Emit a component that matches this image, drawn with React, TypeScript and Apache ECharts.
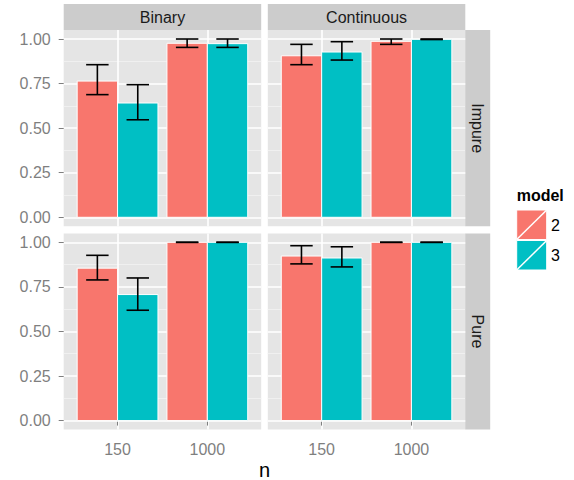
import React, { useEffect, useRef } from 'react';
import * as echarts from 'echarts';

// ---- data ----
const nLevels = ['150', '1000'];
const purityRows = ['Impure', 'Pure'];
const typeCols = ['Binary', 'Continuous'];
const models = ['2', '3'];
const modelColors = ['#F8766D', '#00BFC4'];
const yTicks = [0, 0.25, 0.5, 0.75, 1];
const yMinorTicks = [0.125, 0.375, 0.625, 0.875];

// values per n level [150, 1000]
const impureBinaryM2 = [0.764, 0.976];
const impureBinaryM2Lo = [0.688, 0.953];
const impureBinaryM2Hi = [0.856, 1.0];
const impureBinaryM3 = [0.641, 0.974];
const impureBinaryM3Lo = [0.547, 0.953];
const impureBinaryM3Hi = [0.744, 1.0];

const impureContM2 = [0.906, 0.987];
const impureContM2Lo = [0.856, 0.970];
const impureContM2Hi = [0.970, 1.0];
const impureContM3 = [0.927, 0.998];
const impureContM3Lo = [0.882, 0.997];
const impureContM3Hi = [0.985, 1.0];

const pureBinaryM2 = [0.855, 1.0];
const pureBinaryM2Lo = [0.789, 1.0];
const pureBinaryM2Hi = [0.927, 1.0];
const pureBinaryM3 = [0.707, 1.0];
const pureBinaryM3Lo = [0.619, 1.0];
const pureBinaryM3Hi = [0.800, 1.0];

const pureContM2 = [0.923, 1.0];
const pureContM2Lo = [0.879, 1.0];
const pureContM2Hi = [0.981, 1.0];
const pureContM3 = [0.912, 1.0];
const pureContM3Lo = [0.862, 1.0];
const pureContM3Hi = [0.975, 1.0];

const panels = [
  { row: 0, col: 0, m: [[impureBinaryM2, impureBinaryM2Lo, impureBinaryM2Hi], [impureBinaryM3, impureBinaryM3Lo, impureBinaryM3Hi]] },
  { row: 0, col: 1, m: [[impureContM2, impureContM2Lo, impureContM2Hi], [impureContM3, impureContM3Lo, impureContM3Hi]] },
  { row: 1, col: 0, m: [[pureBinaryM2, pureBinaryM2Lo, pureBinaryM2Hi], [pureBinaryM3, pureBinaryM3Lo, pureBinaryM3Hi]] },
  { row: 1, col: 1, m: [[pureContM2, pureContM2Lo, pureContM2Hi], [pureContM3, pureContM3Lo, pureContM3Hi]] },
];

// ---- layout ----
const PANEL_LEFT = [63.7, 267.8];
const PANEL_TOP = [30.1, 233.4];
const PANEL_W = 197.5;
const PANEL_H = 196.1;
const STRIP_TOP = 4;
const STRIP_RIGHT_X = 465.2;
const STRIP_W = 25;
const FONT = 'Liberation Sans, Arial, sans-serif';
const GREY_TEXT = '#7F7F7F';

const BAR_W = 0.45;

export default function App() {
  const ref = useRef<HTMLDivElement>(null);
  useEffect(() => {
    if (!ref.current) return;
    const chart = echarts.init(ref.current, undefined, { renderer: 'svg' });

    const grid: any[] = [];
    const xAxis: any[] = [];
    const yAxis: any[] = [];
    const series: any[] = [];

    panels.forEach((p, i) => {
      grid.push({
        left: PANEL_LEFT[p.col],
        top: PANEL_TOP[p.row],
        width: PANEL_W,
        height: PANEL_H,
        show: true,
        backgroundColor: '#E5E5E5',
        borderWidth: 0,
      });
      const showX = p.row === 1;
      xAxis.push({
        type: 'value',
        gridIndex: i,
        min: 0.4,
        max: 2.6,
        axisLine: { show: false },
        axisTick: { show: showX, length: 5, lineStyle: { color: GREY_TEXT, width: 1 }, customValues: [1, 2] },
        axisLabel: {
          show: showX,
          customValues: [1, 2],
          margin: 12,
          color: GREY_TEXT,
          fontSize: 16,
          fontFamily: FONT,
          formatter: (v: number) => nLevels[Math.round(v) - 1],
        },
        splitLine: { show: true, lineStyle: { color: '#FFFFFF', width: 1.6 } },
      });
      const showY = p.col === 0;
      yAxis.push({
        type: 'value',
        gridIndex: i,
        min: -0.05,
        max: 1.05,
        axisLine: { show: false },
        axisTick: { show: showY, length: 5, lineStyle: { color: GREY_TEXT, width: 1 }, customValues: yTicks },
        axisLabel: {
          show: showY,
          customValues: yTicks,
          margin: 13,
          color: GREY_TEXT,
          fontSize: 16,
          fontFamily: FONT,
          formatter: (v: number) => v.toFixed(2),
        },
        splitLine: { show: true, lineStyle: { color: '#FFFFFF', width: 1.6 } },
        z: 1,
      });
      yAxis.push({
        type: 'value',
        gridIndex: i,
        position: 'right',
        min: -0.05,
        max: 1.05,
        axisLine: { show: false },
        axisTick: { show: false, customValues: yMinorTicks },
        axisLabel: { show: false, customValues: yMinorTicks },
        splitLine: { show: true, lineStyle: { color: '#F2F2F2', width: 0.8 } },
        z: 0,
      });

      const barData: any[] = [];
      const errData: any[] = [];
      p.m.forEach((arrs, mi) => {
        const [mean, lo, hi] = arrs;
        nLevels.forEach((_, ni) => {
          barData.push([ni + 1, mean[ni], mi]);
          errData.push([ni + 1, lo[ni], hi[ni], mi]);
        });
      });

      series.push({
        type: 'custom',
        xAxisIndex: i,
        yAxisIndex: 2 * i,
        encode: { x: 0, y: 1 },
        data: barData,
        z: 5,
        renderItem: (params: any, api: any) => {
          const x = api.value(0);
          const y = api.value(1);
          const m = api.value(2);
          const x0 = x - BAR_W + m * BAR_W;
          const x1 = x0 + BAR_W;
          const p0 = api.coord([x0, y]);
          const p1 = api.coord([x1, 0]);
          return {
            type: 'rect',
            shape: { x: p0[0], y: p0[1], width: p1[0] - p0[0], height: p1[1] - p0[1] },
            style: { fill: modelColors[m], stroke: '#FFFFFF', lineWidth: 1 },
          };
        },
      });
      series.push({
        type: 'custom',
        xAxisIndex: i,
        yAxisIndex: 2 * i,
        encode: { x: 0, y: [1, 2] },
        data: errData,
        z: 6,
        renderItem: (params: any, api: any) => {
          const x = api.value(0);
          const lo = api.value(1);
          const hi = api.value(2);
          const m = api.value(3);
          const cx = x - BAR_W / 2 + m * BAR_W;
          const t = api.coord([cx, hi]);
          const b = api.coord([cx, lo]);
          const tl = api.coord([cx - 0.125, hi]);
          const tr = api.coord([cx + 0.125, hi]);
          const bl = api.coord([cx - 0.125, lo]);
          const br = api.coord([cx + 0.125, lo]);
          const st = { stroke: '#000000', lineWidth: 1.6 };
          return {
            type: 'group',
            children: [
              { type: 'line', shape: { x1: t[0], y1: t[1], x2: b[0], y2: b[1] }, style: st },
              { type: 'line', shape: { x1: tl[0], y1: tl[1], x2: tr[0], y2: tr[1] }, style: st },
              { type: 'line', shape: { x1: bl[0], y1: bl[1], x2: br[0], y2: br[1] }, style: st },
            ],
          };
        },
      });
    });

    const graphic: any[] = [];
    // top strips
    typeCols.forEach((name, c) => {
      graphic.push({
        type: 'rect',
        shape: { x: PANEL_LEFT[c], y: STRIP_TOP, width: PANEL_W, height: PANEL_TOP[0] - STRIP_TOP },
        style: { fill: '#CCCCCC' },
        z: 1,
      });
      graphic.push({
        type: 'text',
        x: PANEL_LEFT[c] + PANEL_W / 2,
        y: (STRIP_TOP + PANEL_TOP[0]) / 2,
        style: { text: name, fill: '#1A1A1A', font: `16px ${FONT}`, textAlign: 'center', textVerticalAlign: 'middle' },
        z: 2,
      });
    });
    // right strips
    purityRows.forEach((name, r) => {
      graphic.push({
        type: 'rect',
        shape: { x: STRIP_RIGHT_X, y: PANEL_TOP[r], width: STRIP_W, height: PANEL_H },
        style: { fill: '#CCCCCC' },
        z: 1,
      });
      graphic.push({
        type: 'text',
        x: STRIP_RIGHT_X + STRIP_W / 2,
        y: PANEL_TOP[r] + PANEL_H / 2,
        rotation: -Math.PI / 2,
        style: { text: name, fill: '#1A1A1A', font: `16px ${FONT}`, textAlign: 'center', textVerticalAlign: 'middle' },
        z: 2,
      });
    });
    // x axis title
    graphic.push({
      type: 'text',
      x: (PANEL_LEFT[0] + STRIP_RIGHT_X) / 2,
      y: 470,
      style: { text: 'n', fill: '#000000', font: `20px ${FONT}`, textAlign: 'center', textVerticalAlign: 'middle' },
    });
    // legend
    graphic.push({
      type: 'text',
      x: 516.7,
      y: 195,
      style: { text: 'model', fill: '#000000', font: `bold 16px ${FONT}`, textAlign: 'left', textVerticalAlign: 'middle' },
    });
    models.forEach((name, mi) => {
      const ky = 210 + mi * 30.5;
      graphic.push({
        type: 'rect',
        shape: { x: 516.7, y: ky, width: 30, height: 29.5 },
        style: { fill: modelColors[mi], stroke: '#FFFFFF', lineWidth: 1 },
      });
      graphic.push({
        type: 'line',
        shape: { x1: 516.7, y1: ky + 29.5, x2: 546.7, y2: ky },
        style: { stroke: '#FFFFFF', lineWidth: 1.5 },
      });
      graphic.push({
        type: 'text',
        x: 551,
        y: ky + 15,
        style: { text: name, fill: '#000000', font: `16px ${FONT}`, textAlign: 'left', textVerticalAlign: 'middle' },
      });
    });

    chart.setOption({
      animation: false,
      backgroundColor: '#FFFFFF',
      grid,
      xAxis,
      yAxis,
      series,
      graphic,
    });
    return () => chart.dispose();
  }, []);
  return <div ref={ref} style={{ position: 'fixed', left: 0, top: 0, width: 574, height: 480 }} />;
}
